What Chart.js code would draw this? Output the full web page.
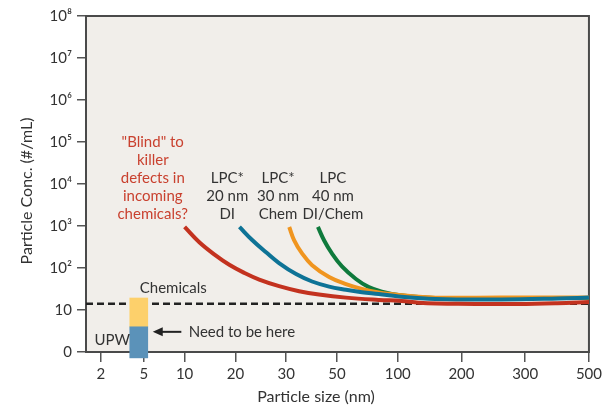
<!DOCTYPE html>
<html>
<head>
<meta charset="utf-8">
<script src="https://cdn.jsdelivr.net/npm/chart.js@4/dist/chart.umd.min.js"></script>
<style>
  body { margin: 0; background: #fff; }
</style>
</head>
<body>
<canvas id="chart" width="605" height="405"></canvas>
<script>
// x tick values (nm) and y tick labels
const xTicks = [2, 5, 10, 20, 30, 50, 100, 200, 300, 500];
const yTickLabels = ['0', '10', '10²', '10³', '10⁴', '10⁵', '10⁶', '10⁷', '10⁸'];

// curves: particle size (nm) / concentration (#/mL)
const redSize   = [10, 12.9, 15.9, 18.8, 21.8, 24.7, 28.6, 35.1, 42.9, 57.4, 84.4, 106, 133, 195, 289, 400, 500];
const redConc   = [950, 409, 208, 119, 76, 53, 36.9, 28, 23.3, 19.7, 17.4, 16.4, 14.9, 14, 13.9, 14.5, 15.5];
const blueSize  = [20.8, 23.3, 26.1, 28.6, 33.9, 40.2, 46.9, 57.4, 70.5, 84.4, 101.6, 159, 262, 403, 500];
const blueConc  = [950, 464, 233, 131, 71.6, 47.7, 36.1, 30.4, 26.5, 24, 21, 18.3, 17.8, 18.8, 19.8];
const orangeSize = [31.2, 33.1, 36.3, 40.2, 46.9, 57.4, 70.5, 84.4, 101.6, 159, 262, 500];
const orangeConc = [950, 464, 220, 117, 61, 41.4, 31.8, 26, 22.8, 19.7, 19.8, 19.8];
const greenSize = [42.5, 44.9, 48, 54.1, 65.6, 76.2, 86.9, 101.6, 159, 262, 500];
const greenConc = [950, 459, 223, 109, 54.7, 35.1, 27.4, 22.8, 19.3, 19.3, 19.3];

// dashed "Chemicals" level and UPW / Chemicals bars
const chemLevel = 14;
const barSize = 4.65;
const upwRange = [-1.4, 6];
const chemRange = [6, 19.3];

// axis layout: where each x tick sits along the axis (the original is hand spaced)
const xTickPos = [15, 58, 99, 150, 201, 252, 313, 377, 441, 505];
const xMax = 505;

function toAxisX(nm) {
  let i = 0;
  while (i < xTicks.length - 2 && nm > xTicks[i + 1]) i++;
  const t = (nm - xTicks[i]) / (xTicks[i + 1] - xTicks[i]);
  return xTickPos[i] + t * (xTickPos[i + 1] - xTickPos[i]);
}

function toAxisY(c) {
  return c >= 10 ? Math.log10(c) : c / 10;
}

function curve(sizes, concs) {
  return sizes.map((s, i) => ({ x: toAxisX(s), y: toAxisY(concs[i]) }));
}

const FONT = 'Lato, "Noto Sans", sans-serif';
const TEXT = '#333';

const lineStyle = {
  type: 'line',
  borderWidth: 4,
  pointRadius: 0,
  fill: false,
  tension: 0.4
};

const plotFrame = {
  id: 'plotFrame',
  beforeDraw(chart) {
    const { ctx, chartArea: a } = chart;
    ctx.save();
    ctx.fillStyle = '#f1eeea';
    ctx.fillRect(a.left, a.top, a.right - a.left, a.bottom - a.top);
    ctx.restore();
  },
  beforeDatasetsDraw(chart) {
    const { ctx, chartArea: a } = chart;
    ctx.save();
    ctx.strokeStyle = '#4a4a4a';
    ctx.lineWidth = 2;
    ctx.strokeRect(a.left, a.top, a.right - a.left, a.bottom - a.top);
    ctx.restore();
  }
};

const notes = {
  id: 'notes',
  afterDatasetsDraw(chart) {
    const { ctx, chartArea: a } = chart;
    const xs = chart.scales.x, ys = chart.scales.y;
    const px = nm => xs.getPixelForValue(toAxisX(nm));
    const py = v => ys.getPixelForValue(v);
    ctx.save();
    ctx.font = '15px ' + FONT;
    ctx.textBaseline = 'middle';

    function block(lines, nm, v, color) {
      ctx.fillStyle = color;
      ctx.textAlign = 'center';
      lines.forEach((s, i) => ctx.fillText(s, px(nm), py(v) + i * 18));
    }
    block(['"Blind" to', 'killer', 'defects in', 'incoming', 'chemicals?'], 6.1, 5, '#c9412f');
    block(['LPC*', '20 nm', 'DI'], 18.4, 4.14, TEXT);
    block(['LPC*', '30 nm', 'Chem'], 28.4, 4.14, TEXT);
    block(['LPC', '40 nm', 'DI/Chem'], 48.4, 4.14, TEXT);

    ctx.fillStyle = TEXT;
    ctx.textAlign = 'left';
    ctx.fillText('Chemicals', px(4.72), py(1.52));
    ctx.fillText('UPW', px(1.55), py(0.29));
    ctx.fillText('Need to be here', px(10.8), py(0.48));

    // arrow
    const y = py(0.48), x0 = px(9.6), x1 = px(6.1);
    ctx.strokeStyle = '#222';
    ctx.lineWidth = 2;
    ctx.beginPath();
    ctx.moveTo(x0, y);
    ctx.lineTo(x1 + 6, y);
    ctx.stroke();
    ctx.fillStyle = '#222';
    ctx.beginPath();
    ctx.moveTo(x1, y);
    ctx.lineTo(x1 + 10, y - 4.5);
    ctx.lineTo(x1 + 10, y + 4.5);
    ctx.closePath();
    ctx.fill();

    // axis titles
    ctx.font = '16px ' + FONT;
    ctx.fillStyle = TEXT;
    ctx.textAlign = 'center';
    ctx.fillText('Particle size (nm)', a.left + 230, 397);
    ctx.translate(27, a.top + 175);
    ctx.rotate(-Math.PI / 2);
    ctx.fillText('Particle Conc. (#/mL)', 0, 0);
    ctx.restore();
  }
};

new Chart(document.getElementById('chart'), {
  type: 'line',
  data: {
    datasets: [
      { ...lineStyle, label: 'Blind', data: curve(redSize, redConc), borderColor: '#c3321f', order: 1 },
      { ...lineStyle, label: 'LPC 20 nm DI', data: curve(blueSize, blueConc), borderColor: '#0e7396', order: 2 },
      { ...lineStyle, label: 'LPC 30 nm Chem', data: curve(orangeSize, orangeConc), borderColor: '#f0951f', order: 3 },
      { ...lineStyle, label: 'LPC 40 nm DI/Chem', data: curve(greenSize, greenConc), borderColor: '#0f7a3c', order: 4 },
      {
        type: 'bar', label: 'UPW',
        data: [{ x: toAxisX(barSize), y: upwRange.map(toAxisY) }],
        backgroundColor: '#5b92b9', barThickness: 18, grouped: false, clip: false, order: 5
      },
      {
        type: 'bar', label: 'Chemicals',
        data: [{ x: toAxisX(barSize), y: chemRange.map(toAxisY) }],
        backgroundColor: '#fdd06b', barThickness: 18, grouped: false, clip: false, order: 5
      },
      {
        type: 'line', label: 'Chemicals level',
        data: [{ x: 0, y: toAxisY(chemLevel) }, { x: xMax, y: toAxisY(chemLevel) }],
        borderColor: '#222', borderWidth: 2.5, borderDash: [7, 4], pointRadius: 0, tension: 0, order: 6
      }
    ]
  },
  options: {
    responsive: false,
    animation: false,
    layout: { padding: { top: 16, right: 14, left: 0, bottom: 0 } },
    plugins: {
      legend: { display: false },
      tooltip: { enabled: false }
    },
    scales: {
      x: {
        type: 'linear',
        min: 0,
        max: xMax,
        offset: false,
        afterBuildTicks: scale => { scale.ticks = xTickPos.map(v => ({ value: v })); },
        afterFit: scale => { scale.height = 53; },
        border: { display: false },
        grid: { offset: false, drawOnChartArea: false, drawTicks: true, tickLength: 10, color: '#555', lineWidth: 1.5 },
        ticks: {
          autoSkip: false,
          maxRotation: 0,
          padding: 3,
          color: TEXT,
          font: { family: FONT, size: 15 },
          callback: (v, i) => xTicks[i]
        }
      },
      y: {
        min: 0,
        max: 8,
        afterFit: scale => { scale.width = 86; },
        border: { display: false },
        grid: { drawOnChartArea: false, drawTicks: true, tickLength: 9, color: '#555', lineWidth: 1.5 },
        ticks: {
          stepSize: 1,
          padding: 5,
          color: TEXT,
          font: { family: FONT, size: 15 },
          callback: v => yTickLabels[v]
        }
      }
    }
  },
  plugins: [plotFrame, notes]
});
</script>
</body>
</html>
